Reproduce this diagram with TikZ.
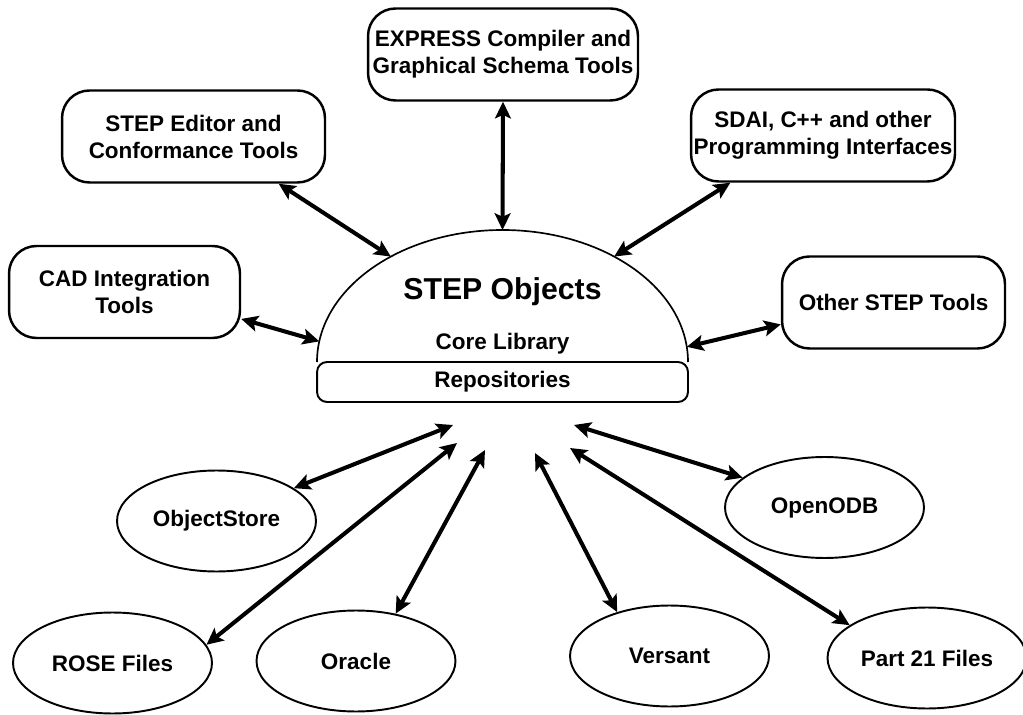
\documentclass[tikz,border=0pt]{standalone}
\usepackage{fontspec}
\setmainfont{Liberation Sans}
\usetikzlibrary{arrows.meta, shapes.geometric}

\begin{document}
\begin{tikzpicture}[
      x=0.02cm, y=-0.02cm,
      font=\fontsize{12.8}{15.4}\selectfont\bfseries,
      tool/.style={draw, line width=1.4pt, rounded corners=0.55cm, align=center,
      minimum height=1.84cm, inner sep=0pt},
      store/.style={ellipse, draw, line width=1.1pt, minimum width=3.98cm,
      minimum height=2.02cm, inner sep=0pt},
      link/.style={>={Stealth[length=9.5pt, width=9pt, inset=2pt]}, <->, line width=2.3pt}
    ]
    \useasboundingbox (0,0) rectangle (1023,715);

    \coordinate (dc) at (502.5,362);
    \draw[line width=0.95pt] (317,362) arc[start angle=180, end angle=360,
      x radius=185.5, y radius=132];
    \node (objects) at (502.5,292) {\fontsize{17.2}{20}\selectfont STEP Objects};
    \node (core) at (502.5,344) {Core Library};
    \node[draw, fill=white, line width=1.1pt, rounded corners=0.2cm, minimum width=7.42cm,
      minimum height=0.8cm, inner sep=0pt] (repo) at (502.5,382) {Repositories};

    \node[tool, minimum width=5.4cm] (express) at (503,54.5)
    {EXPRESS Compiler and\\Graphical Schema Tools};
    \node[tool, minimum width=5.26cm] (editor) at (193.5,136.5)
    {STEP Editor and\\Conformance Tools};
    \node[tool, minimum width=5.28cm] (sdai) at (823,135.5)
    {SDAI, C++ and other\\Programming Interfaces};
    \node[tool, minimum width=4.62cm] (cad) at (124.5,292) {CAD Integration\\Tools};
    \node[tool, minimum width=4.46cm] (other) at (893.5,302.5) {Other STEP Tools};

    \node[store] (objstore) at (216.5,521) {ObjectStore};
    \node[store] (rose) at (112.5,663) {ROSE Files};
    \node[store] (oracle) at (356,661) {Oracle};
    \node[store] (versant) at (669.5,656) {Versant};
    \node[store] (part21) at (927,658) {Part 21 Files};
    \node[store] (openodb) at (824.5,507.5) {OpenODB};

    \coordinate (dtop) at ([shift={(dc)}]270:185.5 and 132);
    \coordinate (deditor) at ([shift={(dc)}]233:185.5 and 132);
    \coordinate (dsdai) at ([shift={(dc)}]307:185.5 and 132);
    \coordinate (dcad) at ([shift={(dc)}]189:185.5 and 132);
    \coordinate (dother) at ([shift={(dc)}]353.4:185.5 and 132);

    \coordinate (r1) at (453,425);
    \coordinate (r2) at (457,443);
    \coordinate (r3) at (485,450);
    \coordinate (r4) at (535,453);
    \coordinate (r5) at (570,448);
    \coordinate (r6) at (574,425);

    \draw[link] (express.south) -- (dtop);
    \draw[link] (editor.-29) -- (deditor);
    \draw[link] (sdai.207) -- (dsdai);
    \draw[link] (cad.-13) -- (dcad);
    \draw[link] (other.191) -- (dother);
    \draw[link] (objstore.23) -- (r1);
    \draw[link] (rose.11) -- (r2);
    \draw[link] (oracle.50) -- (r3);
    \draw[link] (versant.140) -- (r4);
    \draw[link] (part21.157) -- (r5);
    \draw[link] (openodb.160) -- (r6);
  \end{tikzpicture}
\end{document}
